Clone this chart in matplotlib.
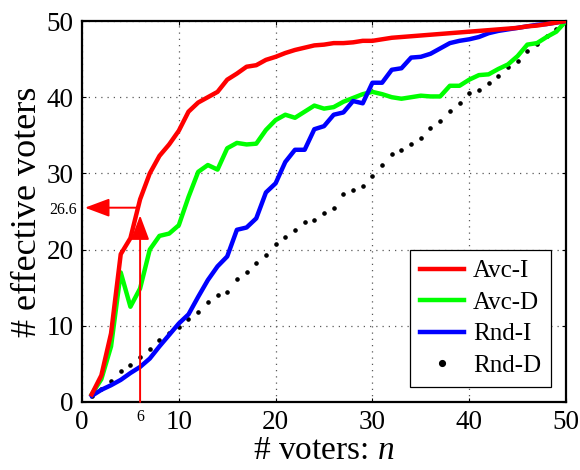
import matplotlib
matplotlib.use("Agg")
import matplotlib.pyplot as plt
import numpy as np

plt.rcParams['font.family'] = ['Liberation Serif', 'DejaVu Serif']
plt.rcParams['mathtext.fontset'] = 'custom'
plt.rcParams['mathtext.rm'] = 'Liberation Serif'
plt.rcParams['mathtext.it'] = 'Liberation Serif:italic'

n_voters = list(range(1, 51))
avc_i = [1.0, 3.5, 9.0, 19.4, 21.5, 26.6, 30.0, 32.3, 33.8, 35.6,
         38.1, 39.3, 40.0, 40.7, 42.3, 43.1, 44.0, 44.2, 44.9, 45.3,
         45.8, 46.2, 46.5, 46.8, 46.9, 47.1, 47.1, 47.2, 47.4, 47.4,
         47.6, 47.8, 47.9, 48.0, 48.1, 48.2, 48.3, 48.4, 48.5, 48.6,
         48.7, 48.8, 48.9, 49.0, 49.1, 49.3, 49.4, 49.6, 49.8, 50.0]
avc_d = [1.0, 3.0, 7.3, 17.0, 12.5, 14.9, 20.0, 21.8, 22.1, 23.2,
         26.9, 30.2, 31.1, 30.5, 33.3, 34.0, 33.8, 33.9, 35.7, 37.0,
         37.7, 37.3, 38.1, 38.9, 38.5, 38.7, 39.4, 39.9, 40.4, 40.7,
         40.4, 40.0, 39.8, 40.0, 40.2, 40.1, 40.1, 41.5, 41.5, 42.3,
         42.9, 43.0, 43.7, 44.3, 45.4, 46.9, 47.1, 47.9, 48.6, 50.0]
rnd_i = [0.8, 1.6, 2.2, 2.9, 3.8, 4.6, 5.7, 7.3, 8.8, 10.3,
         11.5, 13.8, 16.0, 17.8, 19.1, 22.6, 22.9, 24.1, 27.5, 28.7,
         31.5, 33.1, 33.1, 35.8, 36.2, 37.7, 38.0, 39.5, 39.2, 41.9,
         41.9, 43.6, 43.8, 45.2, 45.3, 45.7, 46.4, 47.1, 47.4, 47.6,
         47.9, 48.4, 48.7, 48.9, 49.1, 49.3, 49.5, 49.6, 49.8, 50.0]
rnd_d = [0.8, 1.7, 2.8, 4.1, 4.8, 5.9, 7.0, 8.1, 9.0, 9.8,
         10.9, 11.8, 13.1, 14.0, 14.4, 16.2, 17.1, 18.2, 19.3, 20.8,
         21.6, 22.6, 23.6, 23.9, 24.8, 25.5, 27.3, 27.8, 28.4, 29.7,
         31.1, 32.5, 33.1, 33.8, 34.7, 36.0, 36.9, 38.2, 39.2, 40.5,
         40.9, 41.8, 42.8, 44.0, 44.7, 46.1, 47.0, 48.0, 49.0, 50.0]

mark_x = 6
mark_y = 26.6
ticks = [0, 10, 20, 30, 40, 50]

fig = plt.figure(figsize=(5.8, 4.7), dpi=100)
ax = fig.add_axes([0.1414, 0.1447, 0.8345, 0.8106])

ax.plot(n_voters, avc_i, color='#ff0000', lw=3.2, label='Avc-I', zorder=4)
ax.plot(n_voters, avc_d, color='#00ff00', lw=3.2, label='Avc-D', zorder=3)
ax.plot(n_voters, rnd_i, color='#0000ff', lw=3.2, label='Rnd-I', zorder=3)
ax.plot(n_voters, rnd_d, linestyle='none', marker='o', ms=2.3, color='black',
        label='Rnd-D', zorder=2)

ax.set_xlim(0, 50)
ax.set_ylim(0, 50)
ax.set_xticks(ticks)
ax.set_yticks(ticks)
ax.grid(True, linestyle=(0, (1, 4)), color='0.35', lw=0.9)
ax.tick_params(direction='in', top=True, right=True, labelsize=19.5, length=3,
               width=0.8, pad=6)
for s in ax.spines.values():
    s.set_linewidth(1.6)

# annotation arrows
astyle = '-|>,head_length=0.75,head_width=0.28'
ax.annotate('', xy=(mark_x, mark_y - 2.1), xytext=(mark_x, 0),
            arrowprops=dict(arrowstyle=astyle, color='#ff0000', lw=1.4,
                            mutation_scale=20, shrinkA=0, shrinkB=0),
            zorder=5)
ax.annotate('', xy=(0.3, mark_y - 1.1), xytext=(mark_x - 0.4, mark_y - 1.1),
            arrowprops=dict(arrowstyle=astyle, color='#ff0000', lw=1.4,
                            mutation_scale=20, shrinkA=0, shrinkB=0),
            zorder=5)
ax.text(-0.5, mark_y - 1.4, f'{mark_y}', fontsize=11.5, ha='right', va='center',
        transform=ax.transData)
ax.text(mark_x, -0.9, f'{mark_x}', fontsize=11.5, ha='center', va='top')

ax.set_ylabel('# effective voters', fontsize=26, labelpad=2)
ax.set_xlabel('# voters: $n$', fontsize=24, labelpad=0)

leg = ax.legend(loc='lower right', fontsize=18, frameon=True, fancybox=False,
                edgecolor='black', framealpha=1, handlelength=1.75,
                borderpad=0.4, labelspacing=0.36, handletextpad=0.35,
                numpoints=1, markerscale=1.8, borderaxespad=0.6)
leg.get_frame().set_linewidth(0.9)

fig.savefig('out.png', dpi=100)
